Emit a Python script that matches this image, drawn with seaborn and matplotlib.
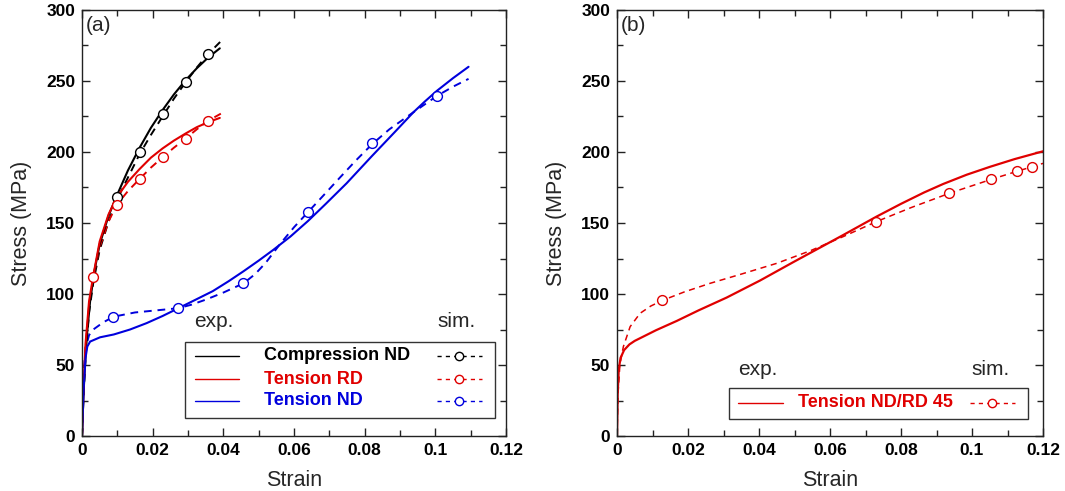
import numpy as np
import pandas as pd
import matplotlib
matplotlib.use("Agg")
import matplotlib.pyplot as plt
from matplotlib.lines import Line2D
from matplotlib.patches import Rectangle
from matplotlib.ticker import MultipleLocator, FuncFormatter
import seaborn as sns

# ---------------- data ----------------
# Panel (a) - Compression ND
comp_exp_strain = [0, 0.0004, 0.0008, 0.0015, 0.0023, 0.0035, 0.005, 0.0075, 0.0098, 0.013,
                   0.0163, 0.0195, 0.0228, 0.026, 0.0293, 0.0325, 0.0357, 0.039]
comp_exp_stress = [0, 28, 48, 74, 95, 116, 135, 155, 169, 187,
                   203, 217, 229.5, 240.5, 250.5, 259, 266.5, 273]
comp_sim_strain = [0, 0.0005, 0.001, 0.002, 0.0032, 0.005, 0.0075, 0.0098, 0.013, 0.0163,
                   0.0195, 0.0228, 0.026, 0.0293, 0.0325, 0.0357, 0.0393]
comp_sim_stress = [0, 32, 55, 87, 108, 131, 151, 166, 182, 198.5,
                   212, 225, 237.5, 249, 259.5, 269, 278]
comp_mark_strain = [0.0098, 0.0163, 0.0228, 0.0293, 0.0357]
comp_mark_stress = [168.3, 199.8, 226.5, 249.5, 269.0]

# Panel (a) - Tension RD
trd_exp_strain = [0, 0.0004, 0.001, 0.002, 0.0032, 0.005, 0.0075, 0.0098, 0.013, 0.0163,
                  0.0195, 0.0228, 0.026, 0.0293, 0.0325, 0.0357, 0.039]
trd_exp_stress = [0, 32, 65, 95, 113, 137, 156, 168, 179, 188,
                  196, 202.5, 208, 213, 217.5, 221, 224]
trd_sim_strain = [0, 0.0005, 0.001, 0.002, 0.0032, 0.005, 0.0075, 0.0098, 0.013, 0.0163,
                  0.0195, 0.0228, 0.026, 0.0293, 0.0325, 0.0357, 0.0393]
trd_sim_stress = [0, 38, 62, 92, 112, 133, 151, 162.7, 172.5, 181,
                  189, 196.3, 203, 209.4, 216, 222, 227]
trd_mark_strain = [0.0032, 0.0098, 0.0163, 0.0228, 0.0293, 0.0357]
trd_mark_stress = [111.7, 162.7, 181.0, 196.3, 209.4, 222.0]

# Panel (a) - Tension ND
tnd_exp_strain = [0, 0.0005, 0.001, 0.0015, 0.0023, 0.0051, 0.009, 0.0136, 0.0183, 0.0228,
                  0.0273, 0.032, 0.037, 0.0415, 0.0457, 0.05, 0.0541, 0.059, 0.064, 0.069,
                  0.0749, 0.082, 0.0885, 0.0938, 0.097, 0.1004, 0.105, 0.1094]
tnd_exp_stress = [0, 35, 55, 63, 66.5, 69.5, 71.5, 75, 79.5, 84.5,
                  90, 95.8, 102, 109, 116, 123.5, 131, 140.5, 151.5, 163.5,
                  178, 197, 214, 228, 235.5, 243, 252, 260]
tnd_sim_strain = [0, 0.0005, 0.001, 0.002, 0.0032, 0.006, 0.0089, 0.015, 0.0273, 0.031,
                  0.035, 0.04, 0.0457, 0.049, 0.052, 0.056, 0.06, 0.0639, 0.068, 0.073,
                  0.0775, 0.0821, 0.087, 0.0938, 0.1004, 0.105, 0.1094]
tnd_sim_stress = [0, 45, 62, 71, 75, 80, 84, 87, 90, 92.5,
                  96, 101, 107.5, 114, 122, 135, 147, 157.5, 168.5, 182,
                  194, 205.5, 216, 228, 239.4, 246, 251.5]
tnd_mark_strain = [0.0089, 0.0273, 0.0457, 0.0639, 0.0821, 0.1004]
tnd_mark_stress = [84.0, 89.9, 107.5, 157.5, 206.0, 239.4]

# Panel (b) - Tension ND/RD 45
t45_exp_strain = [0, 0.0002, 0.0005, 0.001, 0.002, 0.0035, 0.005, 0.0074, 0.011, 0.0168,
                  0.023, 0.0309, 0.0403, 0.0497, 0.0567, 0.0637, 0.0731, 0.08, 0.0865,
                  0.0919, 0.0985, 0.1051, 0.112, 0.12]
t45_exp_stress = [0, 30, 47, 55, 60.5, 64.5, 67, 70, 74.5, 81,
                  88.5, 97.5, 109.5, 122.5, 132, 141.5, 154.5, 163.5, 171.5,
                  177.5, 184, 189.6, 195, 200.5]
t45_sim_strain = [0, 0.0003, 0.0008, 0.0018, 0.0037, 0.0065, 0.0095, 0.0128, 0.019, 0.0262,
                  0.035, 0.045, 0.0545, 0.0637, 0.073, 0.083, 0.0936, 0.1054, 0.1128,
                  0.1168, 0.12]
t45_sim_stress = [0, 30, 50, 63, 77, 86.4, 91.5, 95.5, 101.5, 107.5,
                  114, 121.6, 130.5, 140.4, 150.9, 161, 170.9, 180.7, 186.5,
                  189.5, 192]
t45_mark_strain = [0.0128, 0.073, 0.0936, 0.1054, 0.1128, 0.1168]
t45_mark_stress = [95.5, 150.9, 170.9, 180.7, 186.9, 189.7]

x_ticks = [0, 0.02, 0.04, 0.06, 0.08, 0.1, 0.12]
y_ticks = [0, 50, 100, 150, 200, 250, 300]

BLACK = "#000000"
RED = "#e00000"
BLUE = "#0000dd"

sns.set_theme(style="ticks")
plt.rcParams["font.family"] = ["Liberation Sans", "DejaVu Sans"]
plt.rcParams["axes.linewidth"] = 1.0

fig = plt.figure(figsize=(10.65, 4.91), dpi=100)
ax_a = fig.add_axes([82 / 1065, 55 / 491, 424 / 1065, 426 / 491])
ax_b = fig.add_axes([617 / 1065, 55 / 491, 426 / 1065, 426 / 491])


def draw(ax, xs, ys, color, dashed, lw):
    df = pd.DataFrame({"x": xs, "y": ys})
    sns.lineplot(data=df, x="x", y="y", ax=ax, sort=False, estimator=None,
                 color=color, lw=lw, linestyle=(0, (4, 3)) if dashed else "-")


def marks(ax, xs, ys, color):
    df = pd.DataFrame({"x": xs, "y": ys})
    sns.scatterplot(data=df, x="x", y="y", ax=ax, s=50, facecolor="white",
                    edgecolor=color, linewidth=1.0, zorder=5)


# panel (a)
draw(ax_a, comp_sim_strain, comp_sim_stress, BLACK, True, 1.4)
draw(ax_a, trd_sim_strain, trd_sim_stress, RED, True, 1.4)
draw(ax_a, tnd_sim_strain, tnd_sim_stress, BLUE, True, 1.4)
draw(ax_a, comp_exp_strain, comp_exp_stress, BLACK, False, 1.5)
draw(ax_a, trd_exp_strain, trd_exp_stress, RED, False, 1.5)
draw(ax_a, tnd_exp_strain, tnd_exp_stress, BLUE, False, 1.5)
marks(ax_a, comp_mark_strain, comp_mark_stress, BLACK)
marks(ax_a, trd_mark_strain, trd_mark_stress, RED)
marks(ax_a, tnd_mark_strain, tnd_mark_stress, BLUE)

# panel (b)
draw(ax_b, t45_sim_strain, t45_sim_stress, RED, True, 1.1)
draw(ax_b, t45_exp_strain, t45_exp_stress, RED, False, 1.6)
marks(ax_b, t45_mark_strain, t45_mark_stress, RED)

fmt = FuncFormatter(lambda v, p: f"{v:g}")
for ax, tag in ((ax_a, "(a)"), (ax_b, "(b)")):
    ax.set_xlim(0, 0.12)
    ax.set_ylim(0, 300)
    ax.set_xticks(x_ticks)
    ax.set_yticks(y_ticks)
    ax.xaxis.set_major_formatter(fmt)
    ax.xaxis.set_minor_locator(MultipleLocator(0.01))
    ax.yaxis.set_minor_locator(MultipleLocator(25))
    ax.tick_params(which="both", direction="in", top=True, right=True, colors="#222222",
                   labelcolor="black")
    ax.tick_params(which="major", length=6, width=1, labelsize=12.5, pad=5)
    ax.tick_params(which="minor", length=4, width=1)
    for lab in ax.get_xticklabels() + ax.get_yticklabels():
        lab.set_fontweight("bold")
    for s in ax.spines.values():
        s.set_visible(True)
        s.set_color("#222222")
    ax.set_xlabel("Strain", fontsize=15.5, labelpad=9)
    ax.set_ylabel("Stress (MPa)", fontsize=15.5, labelpad=10)
    ax.text(0.008, 0.963, tag, transform=ax.transAxes, fontsize=15, ha="left", va="center")


def legend_box(ax, x0, y0, x1, y1, rows, exp_xy, sim_xy, solid_x, text_x, dash_x, circ_x):
    ax.add_patch(Rectangle((x0, y0), x1 - x0, y1 - y0, transform=ax.transAxes,
                           fill=False, edgecolor="#333333", lw=1.0, zorder=6))
    ax.text(*exp_xy, "exp.", transform=ax.transAxes, fontsize=15, ha="center", va="center")
    ax.text(*sim_xy, "sim.", transform=ax.transAxes, fontsize=15, ha="center", va="center")
    for label, color, yy in rows:
        ax.add_line(Line2D(solid_x, [yy, yy], transform=ax.transAxes, color=color, lw=1.0, zorder=7))
        ax.text(text_x, yy, label, transform=ax.transAxes, color=color, fontsize=13,
                fontweight="bold", ha="left", va="center", zorder=7)
        ax.add_line(Line2D(dash_x, [yy, yy], transform=ax.transAxes, color=color, lw=1.0,
                           linestyle=(0, (3, 3)), zorder=7))
        ax.add_line(Line2D([circ_x], [yy], transform=ax.transAxes, color=color, marker="o",
                           markersize=6, markerfacecolor="white", markeredgewidth=1.0,
                           linestyle="none", zorder=8))


legend_box(ax_a, 0.243, 0.042, 0.974, 0.221,
           [("Compression ND", BLACK, 0.188), ("Tension RD", RED, 0.133), ("Tension ND", BLUE, 0.083)],
           (0.311, 0.268), (0.884, 0.268), [0.2665, 0.370], 0.429, [0.837, 0.943], 0.889)
legend_box(ax_b, 0.263, 0.040, 0.965, 0.1127,
           [("Tension ND/RD 45", RED, 0.0775)],
           (0.330, 0.157), (0.878, 0.157), [0.284, 0.390], 0.425, [0.829, 0.934], 0.880)

fig.savefig("out.png", dpi=100)
